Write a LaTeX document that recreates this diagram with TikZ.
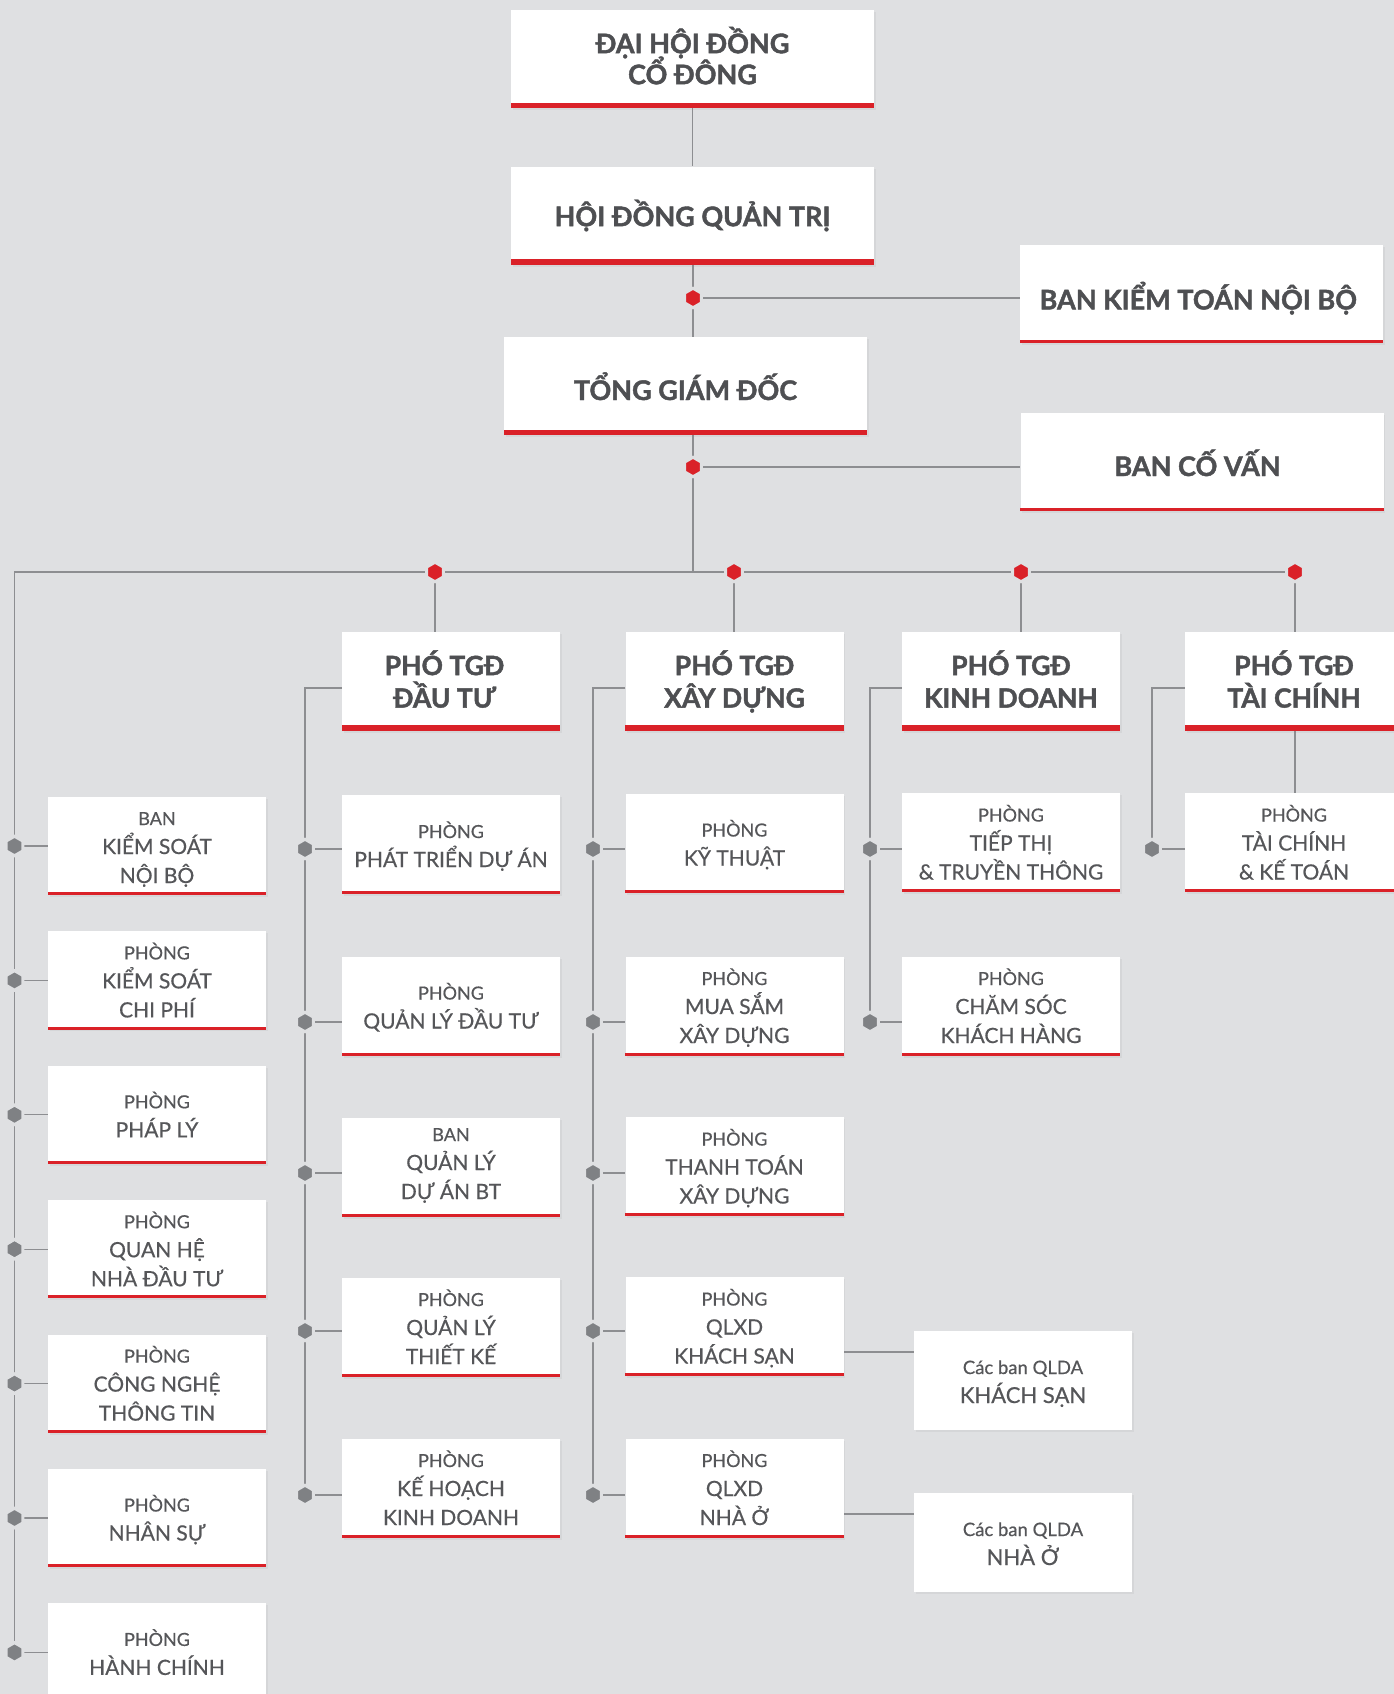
\documentclass[tikz,border=0pt]{standalone}
\usepackage{fontspec}
\setmainfont{Lato}[UprightFeatures={FakeBold=0.5},BoldFeatures={FakeBold=1.6}]
\usetikzlibrary{shapes.geometric,shadows}
\definecolor{bgc}{HTML}{DFE0E2}
\definecolor{ln}{HTML}{8D8E91}
\definecolor{hx}{HTML}{7F8184}
\definecolor{brand}{HTML}{DA2128}
\definecolor{tx}{HTML}{555659}
\definecolor{tb}{HTML}{4E4F52}
\pgfdeclarelayer{bgl}\pgfdeclarelayer{lines}\pgfsetlayers{bgl,lines,main}
\newcommand\nols{\lineskiplimit-60pt\relax}
\newcommand\SL{\rule[-5pt]{0pt}{26pt}}
\newcommand\SLup{\rule[-11pt]{0pt}{27pt}}
\newcommand\BL{\rule[-5pt]{0pt}{29pt}}
\newcommand\BLtop{\rule[-7pt]{0pt}{29pt}}
\newcommand\BLlow{\rule[-1pt]{0pt}{30pt}}
\newcommand\BLkt{\rule[-5pt]{0pt}{41pt}}
\newcommand\PL{\rule[-5pt]{0pt}{28pt}}
\newcommand\lbl[1]{{\fontsize{18}{29}\selectfont #1}}
\newcommand\qlbl[1]{{\fontsize{18.5}{29}\selectfont #1}}
\newcommand\sh[1]{\rule{#1}{0pt}}
\begin{document}
\begin{tikzpicture}[x=1pt,y=-1pt,
 box/.style={fill=white, inner sep=0pt, align=center, text=tx,
   drop shadow={shadow xshift=1.5pt,shadow yshift=-2pt,opacity=0.10}},
 bigbox/.style={box, text=tb, minimum width=363pt, minimum height=98pt, font=\bfseries\fontsize{27}{31}\selectfont\nols},
 vpbox/.style={box, text=tb, minimum width=218pt, minimum height=99pt, font=\bfseries\fontsize{26.5}{32.5}\selectfont\nols},
 smbox/.style={box, minimum width=218pt, minimum height=99pt, font=\fontsize{21}{29}\selectfont\nols},
 hexr/.style={regular polygon, regular polygon sides=6, shape border rotate=30, minimum size=19.5pt, inner sep=0pt, fill=brand, draw=bgc, line width=3pt},
 hexg/.style={hexr, fill=hx},
 conn/.style={draw=ln, line width=1.3pt}]
\path[use as bounding box] (0,0) rectangle (1394,1694);
\begin{pgfonlayer}{bgl}
\fill[bgc] (0,0) rectangle (1394,1694);
\end{pgfonlayer}

% top boxes
\node[bigbox] (dh) at (692.5,59) {\BLtop ĐẠI HỘI ĐỒNG\\\BLtop CỔ ĐÔNG};
\node[bigbox] (hd) at (692.5,215.5) {\BL HỘI ĐỒNG QUẢN TRỊ};
\node[bigbox] (tgd) at (685.5,386) {\BLlow TỔNG GIÁM ĐỐC};
\node[bigbox] (bkt) at (1201.5,294) {\BLkt BAN KIỂM TOÁN NỘI BỘ\sh{6.5pt}};
\node[bigbox] (bcv) at (1202,462) {\BLlow BAN CỐ VẤN\sh{9pt}};

% vice directors
\node[vpbox] (pdt) at (451,681.5) {\PL PHÓ TGĐ\sh{13pt}\\\PL ĐẦU TƯ\sh{13pt}};
\node[vpbox] (pxd) at (734.5,681.5) {\PL PHÓ TGĐ\\\PL XÂY DỰNG};
\node[vpbox] (pkd) at (1011,681.5) {\PL PHÓ TGĐ\\\PL KINH DOANH};
\node[vpbox] (ptc) at (1294,681.5) {\PL PHÓ TGĐ\\\PL TÀI CHÍNH};

% column 1
\node[smbox, minimum height=98pt] (a1) at (157,846) {\SL\lbl{BAN}\\\SL KIỂM SOÁT\\\SL NỘI BỘ};
\node[smbox, minimum height=98pt] (a2) at (157,980.4) {\SL\lbl{PHÒNG}\\\SL KIỂM SOÁT\\\SL CHI PHÍ};
\node[smbox, minimum height=98pt] (a3) at (157,1114.8) {\SL\lbl{PHÒNG}\\\SL PHÁP LÝ};
\node[smbox, minimum height=98pt] (a4) at (157,1249.2) {\SL\lbl{PHÒNG}\\\SL QUAN HỆ\\\SL NHÀ ĐẦU TƯ};
\node[smbox, minimum height=98pt] (a5) at (157,1383.6) {\SL\lbl{PHÒNG}\\\SL CÔNG NGHỆ\\\SL THÔNG TIN};
\node[smbox, minimum height=98pt] (a6) at (157,1518) {\SL\lbl{PHÒNG}\\\SL NHÂN SỰ};
\node[smbox, minimum height=98pt] (a7) at (157,1652.4) {\SL\lbl{PHÒNG}\\\SL HÀNH CHÍNH};

% column 2
\node[smbox] (b1) at (451,844.5) {\SL\lbl{PHÒNG}\\\SL PHÁT TRIỂN DỰ ÁN};
\node[smbox] (b2) at (451,1006) {\SL\lbl{PHÒNG}\\\SL QUẢN LÝ ĐẦU TƯ};
\node[smbox] (b3) at (451,1167.5) {\SLup\lbl{BAN}\\\SLup QUẢN LÝ\\\SLup DỰ ÁN BT};
\node[smbox] (b4) at (451,1327) {\SL\lbl{PHÒNG}\\\SL QUẢN LÝ\\\SL THIẾT KẾ};
\node[smbox] (b5) at (451,1488) {\SL\lbl{PHÒNG}\\\SL KẾ HOẠCH\\\SL KINH DOANH};

% column 3
\node[smbox] (c1) at (734.5,843) {\SL\lbl{PHÒNG}\\\SL KỸ THUẬT};
\node[smbox] (c2) at (734.5,1006) {\SL\lbl{PHÒNG}\\\SL MUA SẮM\\\SL XÂY DỰNG};
\node[smbox] (c3) at (734.5,1166.5) {\SL\lbl{PHÒNG}\\\SL THANH TOÁN\\\SL XÂY DỰNG};
\node[smbox] (c4) at (734.5,1326.5) {\SL\lbl{PHÒNG}\\\SL QLXD\\\SL KHÁCH SẠN};
\node[smbox] (c5) at (734.5,1488) {\SL\lbl{PHÒNG}\\\SL QLXD\\\SL NHÀ Ở};

% column 4
\node[smbox] (d1) at (1011,842.5) {\SL\lbl{PHÒNG}\\\SL TIẾP THỊ\\\SL \& TRUYỀN THÔNG};
\node[smbox] (d2) at (1011,1006) {\SL\lbl{PHÒNG}\\\SL CHĂM SÓC\\\SL KHÁCH HÀNG};

% column 5
\node[smbox] (e1) at (1294,842.5) {\SL\lbl{PHÒNG}\\\SL TÀI CHÍNH\\\SL \& KẾ TOÁN};

% project boards
\node[smbox, font=\fontsize{22}{29}\selectfont\nols] (q1) at (1023,1380.5) {\SL\qlbl{Các ban QLDA}\\\SL KHÁCH SẠN};
\node[smbox, font=\fontsize{22}{29}\selectfont\nols] (q2) at (1023,1542.5) {\SL\qlbl{Các ban QLDA}\\\SL NHÀ Ở};

% red bars
\foreach \n/\t in {dh/5.5,hd/5.5,tgd/5.5,bkt/3,bcv/3,pdt/6,pxd/6,pkd/6,ptc/6,
  a1/3,a2/3,a3/3,a4/3,a5/3,a6/3,b1/3,b2/3,b3/3,b4/3,b5/3,
  c1/3,c2/3,c3/3,c4/3,c5/3,d1/3,d2/3,e1/3}
  \fill[brand] (\n.south west) rectangle ([yshift=\t pt]\n.south east);

% hexagons
\node[hexr] (r0) at (693,298) {};
\node[hexr] (r1) at (693,467) {};
\node[hexr] (r2) at (435,572) {};
\node[hexr] (r3) at (734,572) {};
\node[hexr] (r4) at (1021,572) {};
\node[hexr] (r5) at (1295,572) {};
\foreach \i in {1,...,7} \node[hexg] (ga\i) at (14.5,0 |- a\i) {};
\node[hexg] (gb1) at (305,849) {};
\node[hexg] (gb2) at (305,1022) {};
\node[hexg] (gb3) at (305,1173) {};
\node[hexg] (gb4) at (305,1331) {};
\node[hexg] (gb5) at (305,1495) {};
\node[hexg] (gc1) at (593,849) {};
\node[hexg] (gc2) at (593,1022) {};
\node[hexg] (gc3) at (593,1173) {};
\node[hexg] (gc4) at (593,1331) {};
\node[hexg] (gc5) at (593,1495) {};
\node[hexg] (gd1) at (870,849) {};
\node[hexg] (gd2) at (870,1022) {};
\node[hexg] (ge1) at (1152,849) {};

\coordinate (lc) at (14.5,572);
\coordinate (kb) at (305,688);
\coordinate (kc) at (593,688);
\coordinate (kd) at (870,688);
\coordinate (ke) at (1152,688);
\coordinate (k1) at (0,1352);
\coordinate (k2) at (0,1514);

\begin{pgfonlayer}{lines}
\draw[conn] (dh.south) -- (hd.north);
\draw[conn] (hd.south -| r0) -- (r0.center) -- (tgd.north -| r0);
\draw[conn] (r0.center) -- (r0 -| bkt.west);
\draw[conn] (tgd.south -| r1) -- (r1.center) -- (r1 |- lc);
\draw[conn] (r1.center) -- (r1 -| bcv.west);
\draw[conn] (ga7.center) -- (lc) -- (r5.center);
\draw[conn] (r2.center) -- (r2 |- pdt.north);
\draw[conn] (r3.center) -- (r3 |- pxd.north);
\draw[conn] (r4.center) -- (r4 |- pkd.north);
\draw[conn] (r5.center) -- (r5 |- ptc.north);
\draw[conn] (pdt.west |- kb) -- (kb) -- (gb5.center);
\draw[conn] (pxd.west |- kc) -- (kc) -- (gc5.center);
\draw[conn] (pkd.west |- kd) -- (kd) -- (gd2.center);
\draw[conn] (ptc.west |- ke) -- (ke) -- (ge1.center);
\draw[conn] (ptc.south -| r5) -- (e1.north -| r5);
\foreach \i in {1,...,7} \draw[conn] (ga\i.center) -- (ga\i -| a\i.west);
\foreach \i in {1,...,5} {
  \draw[conn] (gb\i.center) -- (gb\i -| b\i.west);
  \draw[conn] (gc\i.center) -- (gc\i -| c\i.west);
}
\draw[conn] (gd1.center) -- (gd1 -| d1.west);
\draw[conn] (gd2.center) -- (gd2 -| d2.west);
\draw[conn] (ge1.center) -- (ge1 -| e1.west);
\draw[conn] (c4.east |- k1) -- (q1.west |- k1);
\draw[conn] (c5.east |- k2) -- (q2.west |- k2);
\end{pgfonlayer}
\end{tikzpicture}
\end{document}
